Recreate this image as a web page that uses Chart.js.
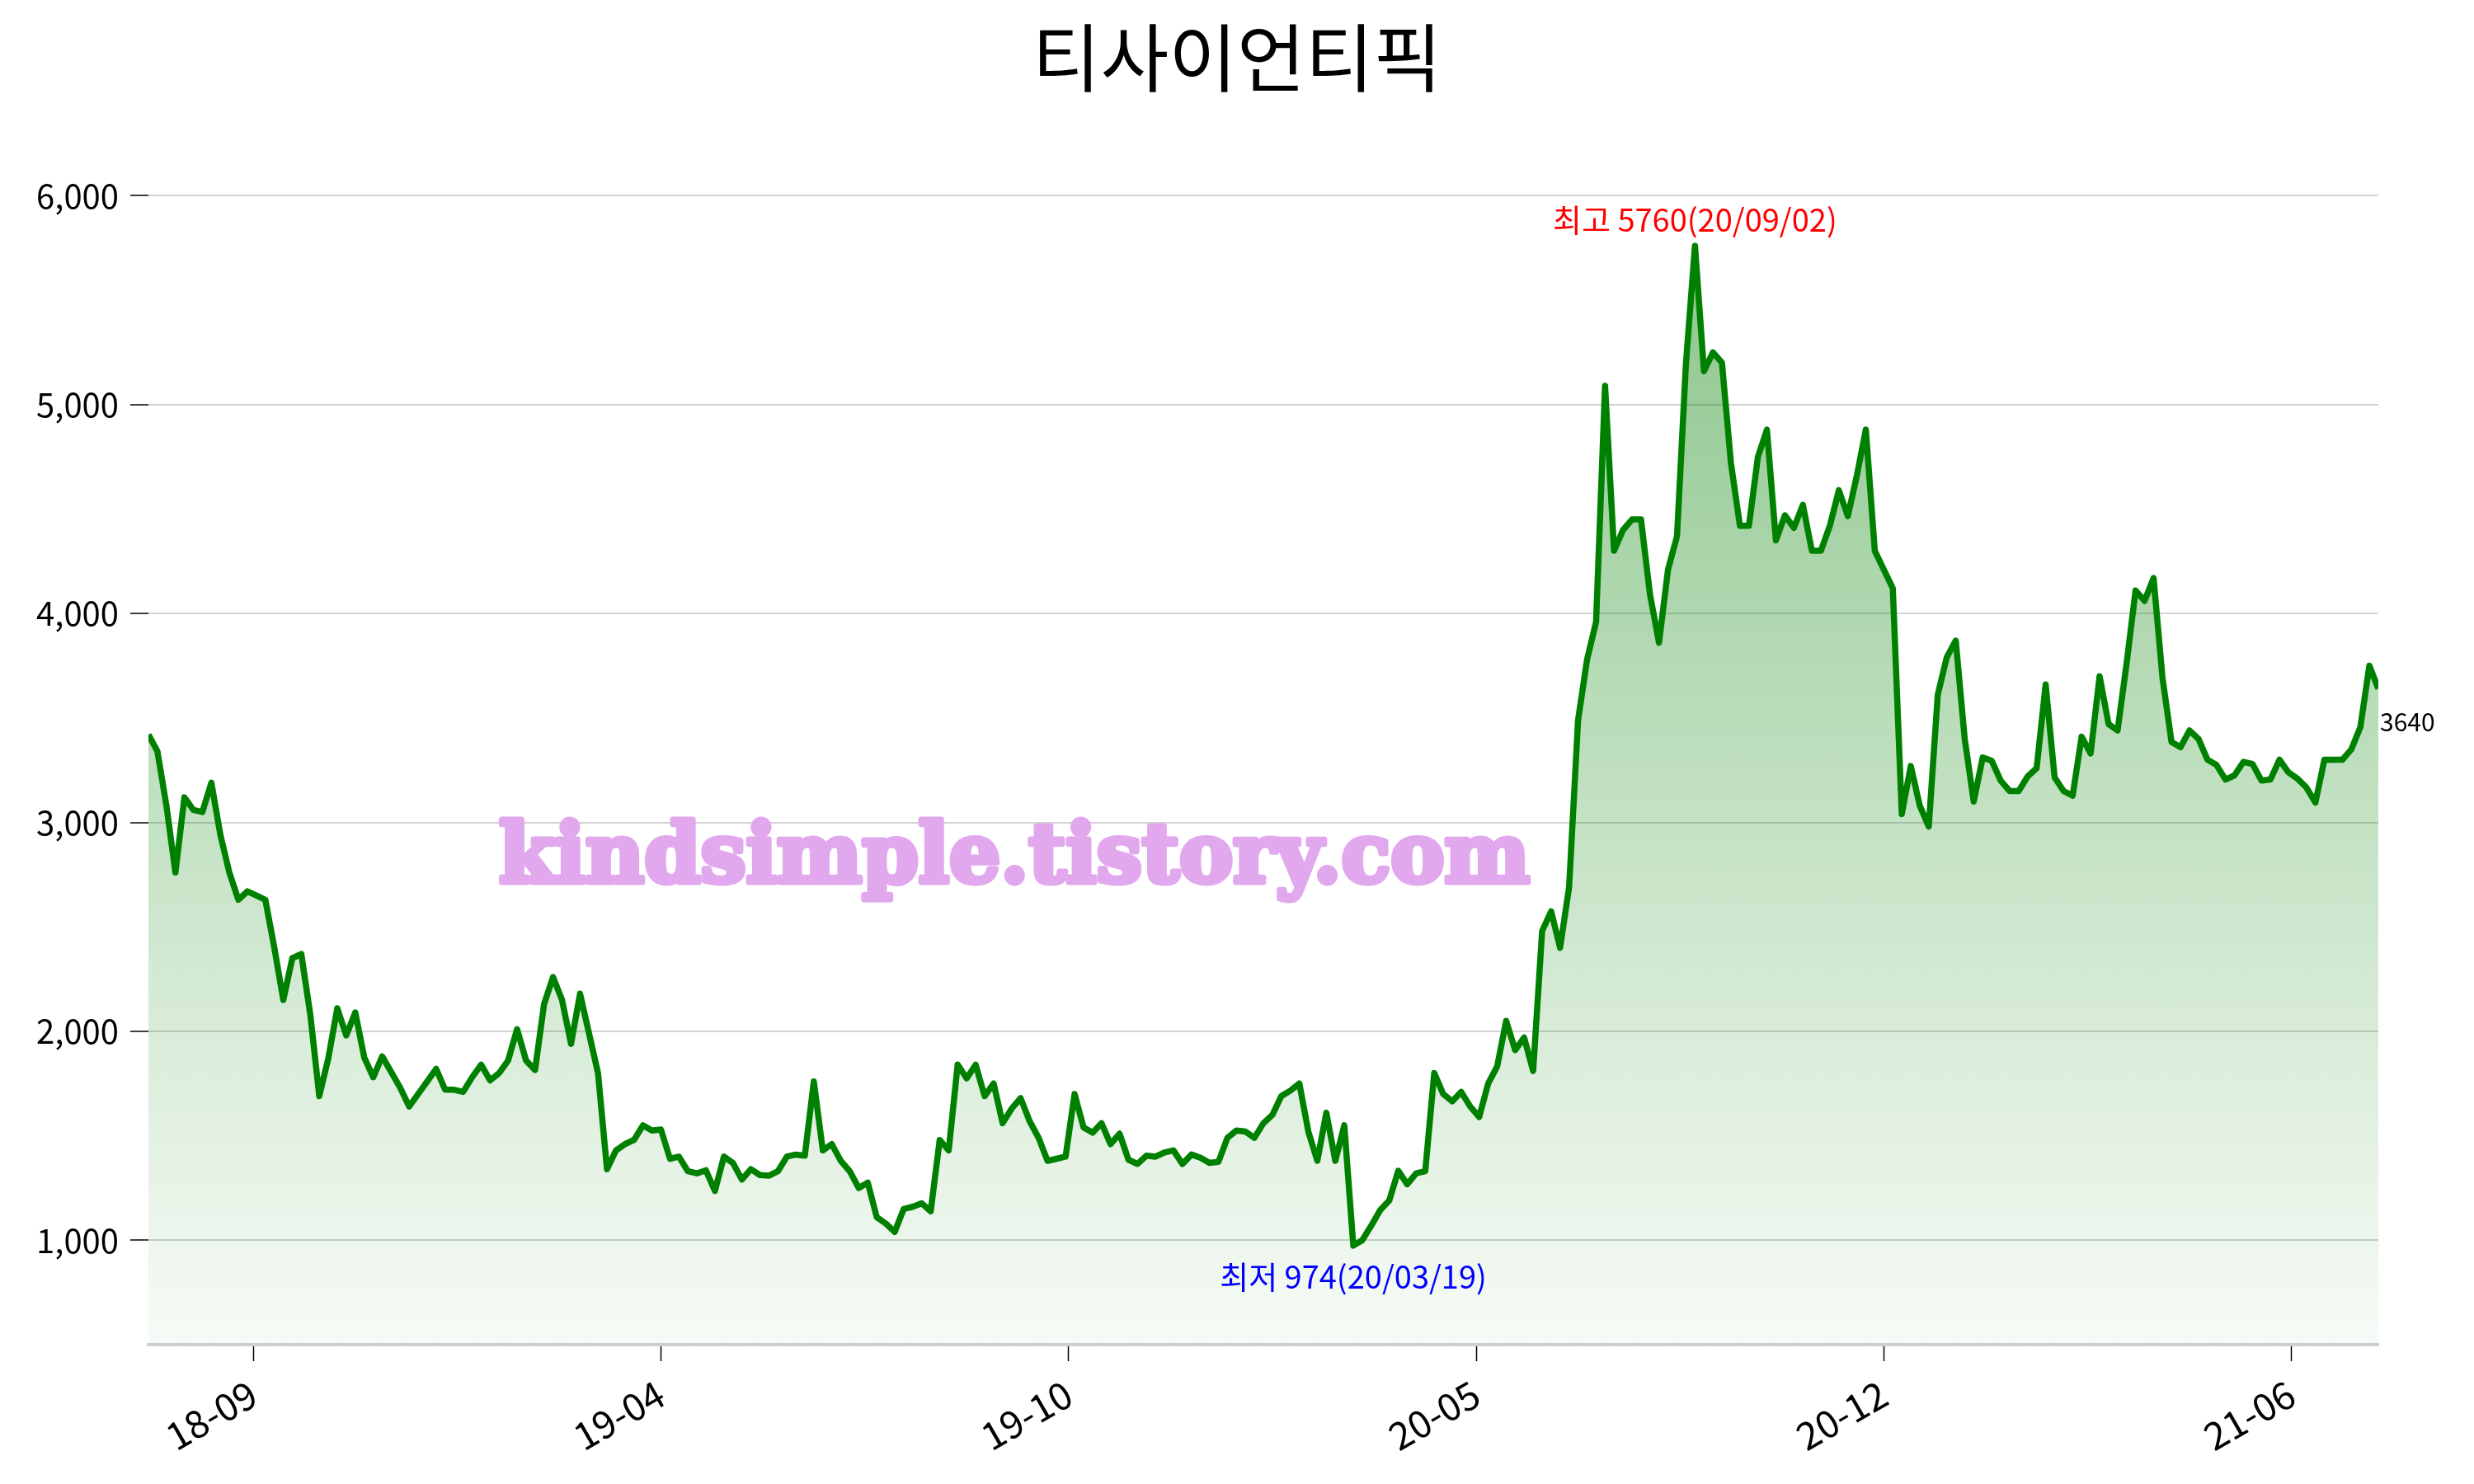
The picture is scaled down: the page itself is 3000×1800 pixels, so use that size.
<!DOCTYPE html>
<html>
<head>
<meta charset="utf-8">
<script src="https://cdn.jsdelivr.net/npm/chart.js@4.4.1/dist/chart.umd.min.js"></script>
<style>
    html, body { margin: 0; padding: 0; background: #fff; }
</style>
</head>
<body>
<canvas id="priceChart" width="3000" height="1800"></canvas>
<script>
const chartTitle = "티사이언티픽";
const stepDays = 3; // one value every 3 trading days
const prices = [
    3420, 3340, 3080, 2760, 3120, 3060, 3050, 3190, 2940, 2760,
    2630, 2670, 2650, 2630, 2400, 2150, 2350, 2370, 2080, 1690,
    1870, 2110, 1980, 2090, 1875, 1780, 1880, 1805, 1730, 1640,
    1700, 1760, 1820, 1720, 1720, 1710, 1780, 1840, 1765, 1800,
    1860, 2010, 1860, 1815, 2130, 2260, 2150, 1940, 2180, 1990,
    1800, 1340, 1430, 1460, 1480, 1550, 1525, 1530, 1390, 1400,
    1330, 1320, 1335, 1236, 1400, 1370, 1290, 1340, 1312, 1309,
    1330, 1400, 1410, 1405, 1760, 1430, 1460, 1380, 1330, 1250,
    1276, 1110, 1080, 1040, 1150, 1160, 1177, 1138, 1480, 1430,
    1841, 1775, 1840, 1690, 1750, 1560, 1630, 1680, 1570, 1490,
    1380, 1390, 1400, 1700, 1540, 1515, 1560, 1460, 1510, 1385,
    1365, 1405, 1400, 1420, 1430, 1365, 1410, 1395, 1370, 1375,
    1490, 1525, 1520, 1490, 1560, 1600, 1690, 1716, 1750, 1520,
    1380, 1610, 1380, 1550, 974, 1000, 1070, 1145, 1190, 1332,
    1268, 1320, 1330, 1800, 1700, 1665, 1710, 1640, 1590, 1750,
    1832, 2050, 1910, 1970, 1810, 2480, 2574, 2400, 2690, 3490,
    3780, 3960, 5090, 4300, 4400, 4450, 4450, 4090, 3860, 4210,
    4370, 5200, 5760, 5160, 5250, 5200, 4720, 4420, 4420, 4750,
    4880, 4350, 4470, 4410, 4520, 4300, 4300, 4420, 4590, 4466,
    4660, 4880, 4300, 4210, 4120, 3040, 3270, 3080, 2980, 3610,
    3790, 3870, 3400, 3100, 3311, 3295, 3200, 3150, 3150, 3220,
    3260, 3660, 3215, 3150, 3128, 3410, 3330, 3700, 3470, 3440,
    3760, 4110, 4060, 4170, 3690, 3385, 3360, 3440, 3400, 3300,
    3275, 3205, 3225, 3290, 3280, 3200, 3205, 3300, 3240, 3210,
    3167, 3095, 3300, 3300, 3300, 3350, 3456, 3750, 3640
];
const tickDays = [35, 171, 307, 443, 579, 715];
const tickLabels = ["18-09", "19-04", "19-10", "20-05", "20-12", "21-06"];
const yTicks = [1000, 2000, 3000, 4000, 5000, 6000];
const highDate = "20/09/02";
const lowDate = "20/03/19";
const watermark = "kindsimple.tistory.com";

const fontFamily = '"Noto Sans CJK KR", "Noto Sans", sans-serif';
Chart.defaults.font.family = fontFamily;
Chart.defaults.color = "#000";

// 최고/최저 위치
const maxPrice = Math.max(...prices);
const minPrice = Math.min(...prices);
const maxIdx = prices.indexOf(maxPrice);
const minIdx = prices.indexOf(minPrice);
const lastIdx = prices.length - 1;

const textPlugin = {
    id: "textPlugin",
    afterDraw(chart) {
        const { ctx, scales, chartArea } = chart;
        const xs = scales.x;
        const ys = scales.y;
        ctx.save();

        // 제목
        ctx.fillStyle = "#000";
        ctx.font = "90px " + fontFamily;
        ctx.textAlign = "center";
        ctx.textBaseline = "middle";
        ctx.fillText(chartTitle, chart.width / 2, 70);

        // 최고
        ctx.font = "38px " + fontFamily;
        ctx.fillStyle = "#ff0000";
        ctx.fillText("최고 " + maxPrice + "(" + highDate + ")",
            xs.getPixelForValue(maxIdx * stepDays), ys.getPixelForValue(maxPrice) - 32);

        // 최저
        ctx.fillStyle = "#0000ff";
        ctx.fillText("최저 " + minPrice + "(" + lowDate + ")",
            xs.getPixelForValue(minIdx * stepDays), ys.getPixelForValue(minPrice) + 38);

        // 마지막 값
        ctx.fillStyle = "#000";
        ctx.font = "30px " + fontFamily;
        ctx.textAlign = "left";
        ctx.fillText(String(prices[lastIdx]), chartArea.right + 2, ys.getPixelForValue(prices[lastIdx]) + 40);

        // 워터마크
        ctx.font = "bold 100px \"DejaVu Serif\", serif";
        ctx.fillStyle = "#e2a8ee";
        ctx.strokeStyle = "#e2a8ee";
        ctx.lineWidth = 7;
        ctx.lineJoin = "round";
        ctx.textAlign = "center";
        ctx.textBaseline = "alphabetic";
        const w = ctx.measureText(watermark).width;
        ctx.translate(1230, 1070);
        ctx.scale(1250 / w, 1);
        ctx.strokeText(watermark, 0, 0);
        ctx.fillText(watermark, 0, 0);
        ctx.restore();
    }
};

const ctx = document.getElementById("priceChart").getContext("2d");
new Chart(ctx, {
    type: "line",
    data: {
        datasets: [{
            data: prices.map((p, i) => ({ x: i * stepDays, y: p })),
            borderColor: "#008000",
            borderWidth: 7.5,
            borderJoinStyle: "round",
            pointRadius: 0,
            tension: 0,
            fill: "start",
            backgroundColor: (context) => {
                const chart = context.chart;
                const area = chart.chartArea;
                if (!area) return "rgba(0,128,0,0.2)";
                const top = chart.scales.y.getPixelForValue(maxPrice);
                const g = chart.ctx.createLinearGradient(0, top, 0, area.bottom);
                g.addColorStop(0, "rgba(0,128,0,0.45)");
                g.addColorStop(1, "rgba(0,128,0,0.03)");
                return g;
            },
        }],
    },
    options: {
        responsive: false,
        devicePixelRatio: 1,
        animation: false,
        layout: { padding: { top: 174, right: 116, left: 0, bottom: 0 } },
        plugins: {
            legend: { display: false },
            tooltip: { enabled: false },
        },
        scales: {
            x: {
                type: "linear",
                min: 0,
                max: lastIdx * stepDays,
                afterBuildTicks: (axis) => {
                    axis.ticks = tickDays.map((v) => ({ value: v }));
                },
                afterFit: (axis) => { axis.height = 169; },
                ticks: {
                    autoSkip: false,
                    minRotation: 30,
                    maxRotation: 30,
                    padding: 12,
                    font: { size: 46 },
                    callback: (v, i) => tickLabels[i],
                },
                grid: {
                    drawOnChartArea: false,
                    drawTicks: true,
                    tickLength: 20,
                    tickColor: "#000",
                    tickWidth: 1.5,
                },
                border: { display: true, color: "#d0d0d0", width: 4 },
            },
            y: {
                min: 500,
                max: 6250,
                afterBuildTicks: (axis) => {
                    axis.ticks = yTicks.map((v) => ({ value: v }));
                },
                afterFit: (axis) => { axis.width = 180; },
                ticks: {
                    padding: 14,
                    font: { size: 40 },
                    callback: (v) => v.toLocaleString("en-US"),
                },
                grid: {
                    color: "#d3d3d3",
                    lineWidth: 2,
                    tickLength: 22,
                    tickColor: "#000",
                    tickWidth: 1.5,
                },
                border: { display: false },
            },
        },
    },
    plugins: [textPlugin],
});
</script>
</body>
</html>
